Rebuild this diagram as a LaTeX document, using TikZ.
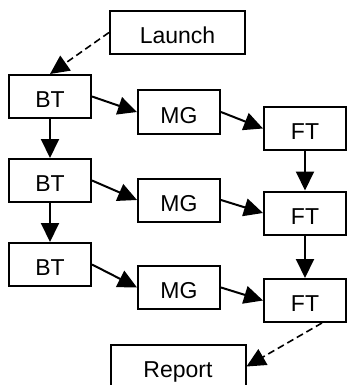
\documentclass[tikz,border=0pt]{standalone}
\usepackage{fontspec}
\setmainfont{Liberation Sans}
\usetikzlibrary{arrows.meta}

\begin{document}
\begin{tikzpicture}[x=0.5pt, y=-0.5pt,
    box/.style={draw, line width=1pt, inner sep=0pt, minimum width=41pt, minimum height=21.5pt,
        font=\fontsize{11.5}{13}\selectfont, text height=11.2pt, text depth=0pt},
    widebox/.style={box, minimum width=67.5pt},
    link/.style={line width=1pt, -{Triangle[length=9.5pt, width=9pt]}},
    dashlink/.style={link, line width=0.8pt, dash pattern=on 3.5pt off 2pt}]
    \useasboundingbox (0,0) rectangle (348,385);

    % Start and end
    \node[widebox] (launch) at (177.5,32.5) {Launch};
    \node[widebox] (report) at (178,366.5) {Report};

    % Three rows of steps
    \node[box] (bt1) at (50,96.5) {BT};
    \node[box] (mg1) at (179,112) {MG};
    \node[box] (ft1) at (305,128.5) {FT};

    \node[box] (bt2) at (50,180.5) {BT};
    \node[box] (mg2) at (179,200) {MG};
    \node[box] (ft2) at (305,213) {FT};

    \node[box] (bt3) at (50,264.5) {BT};
    \node[box] (mg3) at (179,287.5) {MG};
    \node[box] (ft3) at (305,300.5) {FT};

    % Along each row
    \draw[link] (bt1.east) -- (mg1.west);
    \draw[link] (mg1.east) -- (ft1.west);
    \draw[link] (bt2.east) -- (mg2.west);
    \draw[link] (mg2.east) -- (ft2.west);
    \draw[link] (bt3.east) -- (mg3.west);
    \draw[link] (mg3.east) -- (ft3.west);

    % Down the columns
    \draw[link] (bt1) -- (bt2);
    \draw[link] (bt2) -- (bt3);
    \draw[link] (ft1) -- (ft2);
    \draw[link] (ft2) -- (ft3);

    % In and out
    \draw[dashlink] (launch.west) -- (bt1.north);
    \draw[dashlink] (ft3.-53) -- (report.east);
\end{tikzpicture}
\end{document}
